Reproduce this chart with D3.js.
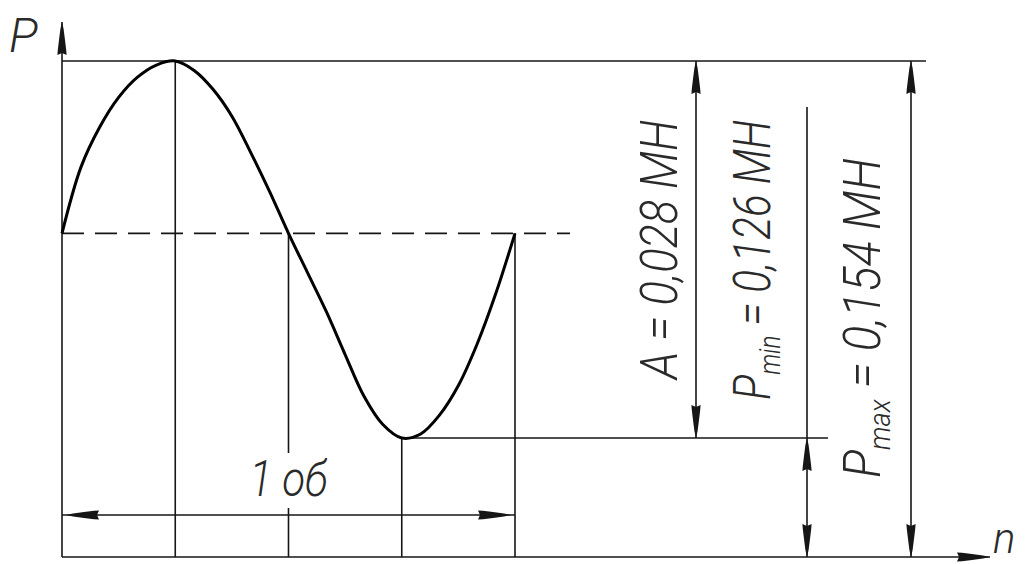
<!DOCTYPE html>
<html>
<head>
<meta charset="utf-8">
<script src="https://cdn.jsdelivr.net/npm/d3@7"></script>
<style>
  html, body { margin: 0; padding: 0; background: #fff; }
  svg { display: block; }
  text { font-family: Roboto, "Liberation Sans", sans-serif; font-style: italic; font-weight: 300; fill: #2a2a2a; }
</style>
</head>
<body>
<svg id="chart" width="1026" height="564"></svg>
<script>
// ---- data ----
const phaseDeg = [0, 15, 30, 45, 60, 75, 90, 105, 120, 135, 150, 165, 180,
                  195, 210, 225, 240, 255, 270, 285, 300, 315, 330, 345, 360];
const loadP    = [0.1412, 0.1461, 0.1491, 0.1513, 0.1528, 0.1537, 0.1540, 0.1533, 0.1519, 0.1499, 0.1472, 0.1443, 0.1412,
                  0.1383, 0.1354, 0.1322, 0.1291, 0.1270, 0.1260, 0.1263, 0.1277, 0.1299, 0.1330, 0.1368, 0.1412];
const keyPhase = [90, 180, 270, 360];
const Pmin = 0.126, Pmax = 0.154, Pmean = 0.1412, Pzero = 0;
const labelA    = ["A = 0,028 MH"];
const labelPmin = ["P", "min", " = 0,126 MH"];
const labelPmax = ["P", "max", " = 0,154 MH"];
const axisY = "P", axisX = "n", periodLabel = "1 об";

// ---- layout ----
const W = 1026, H = 564;
const svg = d3.select("#chart");
svg.append("rect").attr("width", W).attr("height", H).attr("fill", "#fff");

const x = d3.scaleLinear().domain([0, 360]).range([62, 515]);
const y = d3.scaleLinear().domain([Pzero, Pmin, Pmax]).range([557, 438, 61]);

const ink = "#161616";
const lw = 1.6;
const X0 = x(0), Y0 = y(Pzero);
const xA = 696, xPmin = 807, xPmax = 911;
const xTopEnd = 926, xTroughEnd = 828, xDashEnd = 570, xAxisEnd = 990, yAxisTop = 22;
const yPeriod = 515;

function line(x1, y1, x2, y2, extra) {
  const l = svg.append("line").attr("x1", x1).attr("y1", y1).attr("x2", x2).attr("y2", y2)
    .attr("stroke", ink).attr("stroke-width", lw);
  if (extra) extra(l);
  return l;
}
// arrow: tip at (tx,ty); body extends along angle bodyAngle (deg)
function arrow(tx, ty, bodyAngle) {
  svg.append("path")
    .attr("d", "M0,0 L7,-1.6 L18,-3 L28,-4.2 L33,-4.6 L31,0 L33,4.6 L28,4.2 L18,3 L7,1.6 Z")
    .attr("fill", ink)
    .attr("transform", `translate(${tx},${ty}) rotate(${bodyAngle})`);
}

// axes
line(X0, Y0, X0, yAxisTop);
line(X0, Y0, xAxisEnd, Y0);
arrow(X0, yAxisTop, 90);
arrow(xAxisEnd, Y0, 180);

// reference lines
line(X0, y(Pmax), xTopEnd, y(Pmax));
line(x(270), y(Pmin), xTroughEnd, y(Pmin));
line(X0, y(Pmean), xDashEnd, y(Pmean), l => l.attr("stroke-dasharray", "22,11"));

// vertical lines at key phases
keyPhase.forEach((p, i) => {
  const yTop = i === 0 ? y(Pmax) : (i === 2 ? y(Pmin) : y(Pmean));
  line(x(p), yTop, x(p), Y0);
});

// dimension lines
line(xA, y(Pmax), xA, y(Pmin));
arrow(xA, y(Pmax), 90);
arrow(xA, y(Pmin), -90);

line(xPmin, 107, xPmin, Y0);
arrow(xPmin, y(Pmin), 90);
arrow(xPmin, Y0, -90);

line(xPmax, y(Pmax), xPmax, Y0);
arrow(xPmax, y(Pmax), 90);
arrow(xPmax, Y0, -90);

line(x(0), yPeriod, x(360), yPeriod);
arrow(x(0) + 4, yPeriod, 0);
arrow(x(360) - 4, yPeriod, 180);

// curve
const pts = phaseDeg.map((d, i) => [d, loadP[i]]);
svg.append("path")
  .datum(pts)
  .attr("fill", "none")
  .attr("stroke", "#000")
  .attr("stroke-width", 3)
  .attr("stroke-linejoin", "round")
  .attr("d", d3.line().x(d => x(d[0])).y(d => y(d[1])).curve(d3.curveCatmullRom.alpha(0.5)));

// ---- texts ----
svg.append("text").attr("x", 9).attr("y", 52).attr("font-size", 48).text(axisY);
svg.append("text").attr("x", 993).attr("y", 553).attr("font-size", 42).text(axisX);

// period label with white backing
const pg = svg.append("g");
const bg = pg.append("rect").attr("fill", "#fff");
const pt = pg.append("text").attr("x", x(180)).attr("y", 496).attr("font-size", 49)
  .attr("text-anchor", "middle").text(periodLabel);
{
  const nat = pt.node().getComputedTextLength();
  const target = 78;
  const sx = target / nat;
  pt.attr("transform", `translate(${x(180)},0) scale(${sx},1) translate(${-x(180)},0)`);
  bg.attr("x", x(180) - target / 2 - 4).attr("y", 453).attr("width", target + 8).attr("height", 55);
}

// rotated labels
function vlabel(parts, baseX, startY, endY, size) {
  const g = svg.append("g");
  const t = g.append("text").attr("font-size", size);
  if (parts.length === 1) {
    t.append("tspan").text(parts[0]);
  } else {
    t.append("tspan").text(parts[0]);
    t.append("tspan").attr("font-size", size * 0.58).attr("dy", size * 0.2).text(parts[1]);
    t.append("tspan").attr("dy", -size * 0.2).text(parts[2]);
  }
  const nat = t.node().getComputedTextLength();
  const sx = (startY - endY) / nat;
  g.attr("transform", `translate(${baseX},${startY}) rotate(-90) scale(${sx},1)`);
}
vlabel(labelA, 677, 379, 120, 52);
vlabel(labelPmin, 770, 400, 120, 52);
vlabel(labelPmax, 880, 478, 158, 52);
</script>
</body>
</html>
